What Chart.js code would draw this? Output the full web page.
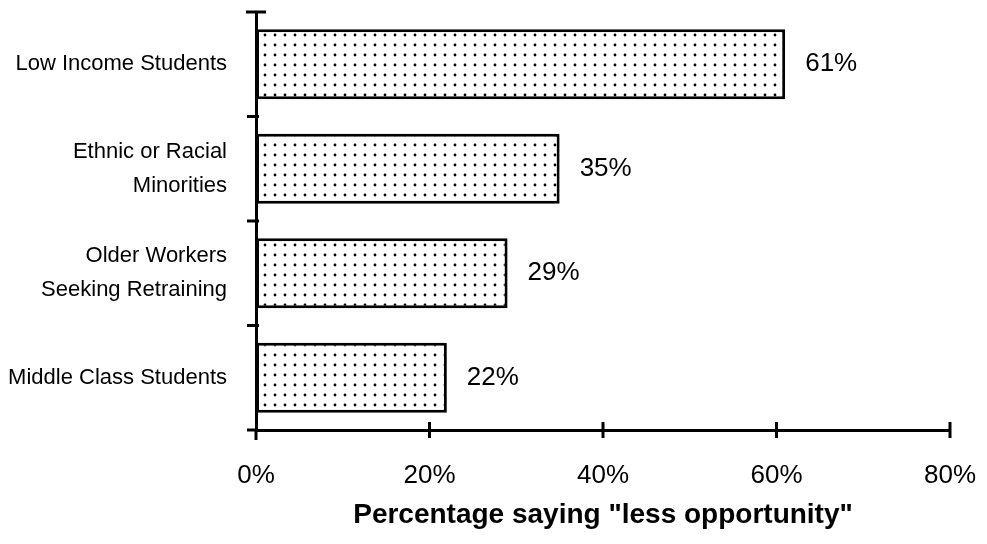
<!DOCTYPE html>
<html>
<head>
<meta charset="utf-8">
<title>Less opportunity</title>
<script src="https://cdn.jsdelivr.net/npm/chart.js@4/dist/chart.umd.min.js"></script>
<style>
  html, body { margin: 0; padding: 0; background: #fff; }
  #wrap { width: 987px; height: 544px; }
</style>
</head>
<body>
<div id="wrap"><canvas id="results"></canvas></div>
<script>
'use strict';

// data
var groups = [
  'Low Income Students',
  ['Ethnic or Racial', 'Minorities'],
  ['Older Workers', 'Seeking Retraining'],
  'Middle Class Students'
];
var lessOpportunity = [61, 35, 29, 22];
var xTicks = [0, 20, 40, 60, 80];
var axisTitle = 'Percentage saying "less opportunity"';

Chart.defaults.font.family = '"Liberation Sans", Arial, Helvetica, sans-serif';
Chart.defaults.color = '#000';

// little dotted fill like the old screen pattern
function dotPattern() {
  var tile = document.createElement('canvas');
  tile.width = 10;
  tile.height = 10;
  var t = tile.getContext('2d');
  t.fillStyle = '#fff';
  t.fillRect(0, 0, 10, 10);
  t.fillStyle = '#000';
  t.beginPath();
  t.arc(5, 5, 1.4, 0, Math.PI * 2);
  t.fill();
  return document.getElementById('results').getContext('2d').createPattern(tile, 'repeat');
}

// draws the cross ticks on both axes and the value labels next to bars
var axisMarks = {
  id: 'axisMarks',
  afterDraw: function (chart) {
    var ctx = chart.ctx;
    var x = chart.scales.x;
    var y = chart.scales.y;
    var x0 = x.getPixelForValue(0);
    var top = y.getPixelForValue(-0.5);
    var bottom = y.getPixelForValue(groups.length - 0.5);

    ctx.save();
    ctx.strokeStyle = '#000';
    ctx.lineWidth = 3;
    ctx.beginPath();
    // cap on top of y axis
    ctx.moveTo(x0 - 10, top);
    ctx.lineTo(x0 + 10, top);
    // category separators
    for (var i = 1; i < groups.length; i++) {
      var py = y.getPixelForValue(i - 0.5);
      ctx.moveTo(x0 - 9, py);
      ctx.lineTo(x0 + 3, py);
    }
    // origin cross
    ctx.moveTo(x0, bottom);
    ctx.lineTo(x0, bottom + 10);
    ctx.moveTo(x0 - 9, bottom);
    ctx.lineTo(x0, bottom);
    // x ticks
    xTicks.forEach(function (v) {
      if (v === 0) return;
      var px = x.getPixelForValue(v);
      ctx.moveTo(px, bottom - 8);
      ctx.lineTo(px, bottom + 8);
    });
    ctx.stroke();

    // value labels
    ctx.fillStyle = '#000';
    ctx.font = '26px "Liberation Sans", Arial, sans-serif';
    ctx.textAlign = 'left';
    ctx.textBaseline = 'middle';
    chart.getDatasetMeta(0).data.forEach(function (bar, idx) {
      ctx.fillText(lessOpportunity[idx] + '%', bar.x + 20, bar.y);
    });
    ctx.restore();
  }
};

function createBarChart() {
  var context = document.getElementById('results').getContext('2d');

  var results = new Chart(context, {
    type: 'bar',
    data: {
      labels: groups,
      datasets: [{
        data: lessOpportunity,
        backgroundColor: dotPattern(),
        borderColor: '#000',
        borderWidth: 3,
        borderSkipped: false,
        barPercentage: 0.67,
        categoryPercentage: 1
      }]
    },
    options: {
      indexAxis: 'y',
      responsive: true,
      maintainAspectRatio: false,
      animation: false,
      layout: {
        padding: { top: 12, right: 37, left: 0, bottom: 0 }
      },
      plugins: {
        legend: { display: false },
        tooltip: { enabled: false }
      },
      scales: {
        x: {
          min: 0,
          max: 80,
          afterBuildTicks: function (scale) {
            scale.ticks = xTicks.map(function (v) { return { value: v }; });
          },
          afterFit: function (scale) {
            scale.height = 114;
            scale.paddingLeft = 0;
            scale.paddingRight = 0;
          },
          grid: { display: false },
          border: { display: true, color: '#000', width: 3 },
          ticks: {
            padding: 22,
            font: { size: 26 },
            maxRotation: 0,
            callback: function (v) { return v + '%'; }
          },
          title: {
            display: true,
            text: axisTitle,
            font: { size: 28, weight: 'bold' },
            padding: { top: 0, bottom: 12 }
          }
        },
        y: {
          afterFit: function (scale) {
            scale.width = 256;
            scale.paddingTop = 0;
            scale.paddingBottom = 0;
          },
          grid: { display: false },
          border: { display: true, color: '#000', width: 3 },
          ticks: {
            padding: 21,
            font: { size: 22, lineHeight: 1.55 }
          }
        }
      }
    },
    plugins: [axisMarks]
  });
}

createBarChart();
</script>
</body>
</html>
